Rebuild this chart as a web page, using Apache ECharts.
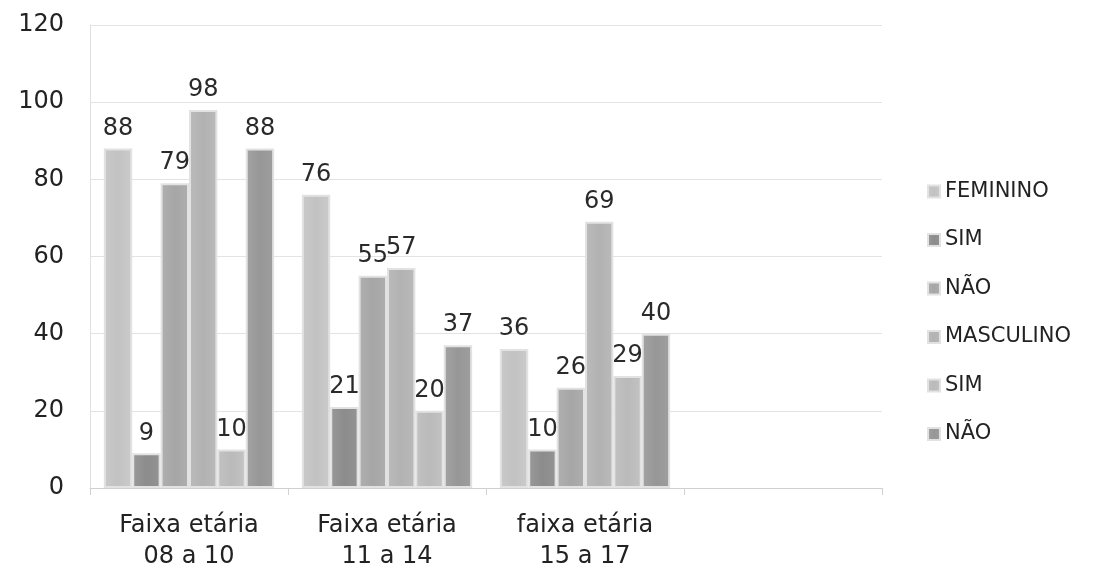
<!DOCTYPE html>
<html><head><meta charset="utf-8">
<script src="https://cdn.jsdelivr.net/npm/echarts@6/dist/echarts.min.js"></script>
<style>html,body{margin:0;padding:0;background:#fff}#c{width:1104px;height:583px}</style>
</head><body><div id="c"></div>
<script>
const categories = ['Faixa etária\n08 a 10', 'Faixa etária\n11 a 14', 'faixa etária\n15 a 17', ''];
const seriesNames = ['FEMININO', 'SIM', 'NÃO', 'MASCULINO', 'SIM', 'NÃO'];
const femininoTotal = [88, 76, 36];
const femininoSim = [9, 21, 10];
const femininoNao = [79, 55, 26];
const masculinoTotal = [98, 57, 69];
const masculinoSim = [10, 20, 29];
const masculinoNao = [88, 37, 40];
const yTicks = [0, 20, 40, 60, 80, 100, 120];

const values = [femininoTotal, femininoSim, femininoNao, masculinoTotal, masculinoSim, masculinoNao];
const colors = ['#c2c2c2', '#8c8c8c', '#a6a6a6', '#b2b2b2', '#bababa', '#979797'];
const ids = ['f', 'fs', 'fn', 'm', 'ms', 'mn'];
const chart = echarts.init(document.getElementById('c'));
function grad(c) {
  return new echarts.graphic.LinearGradient(0, 0, 1, 0, [
    {offset: 0, color: echarts.color.lift(c, 0.12)},
    {offset: 0.5, color: c},
    {offset: 1, color: echarts.color.lift(c, -0.05)}
  ]);
}
chart.setOption({
  animation: false,
  textStyle: {fontFamily: 'DejaVu Sans, Liberation Sans, sans-serif'},
  grid: {left: 90, right: 222, top: 25, bottom: 95},
  legend: {
    orient: 'vertical', left: 922, top: 176, itemGap: 27.5,
    itemWidth: 12, itemHeight: 12, icon: 'rect',
    textStyle: {fontSize: 21, color: '#222'},
    data: ids,
    formatter: function (n) { return seriesNames[ids.indexOf(n)]; }
  },
  xAxis: {
    type: 'category', data: categories,
    axisLine: {lineStyle: {color: '#d0d0d0'}},
    axisTick: {show: true, length: 7, lineStyle: {color: '#d0d0d0'}},
    axisLabel: {fontSize: 24, color: '#222', lineHeight: 31, margin: 22, interval: 0}
  },
  yAxis: {
    type: 'value', min: 0, max: 120, interval: 20,
    axisLine: {show: true, lineStyle: {color: '#e0e0e0'}},
    axisLabel: {fontSize: 24, color: '#222', margin: 26},
    splitLine: {lineStyle: {color: '#e3e3e3'}}
  },
  series: values.map((v, i) => ({
    type: 'bar', name: ids[i], data: v,
    barGap: '0%', barCategoryGap: '14%',
    itemStyle: {color: grad(colors[i]), borderColor: '#e2e2e2', borderWidth: 2},
    label: {show: true, position: 'top', fontSize: 24, color: '#2a2a2a', distance: 8}
  }))
});
</script></body></html>
